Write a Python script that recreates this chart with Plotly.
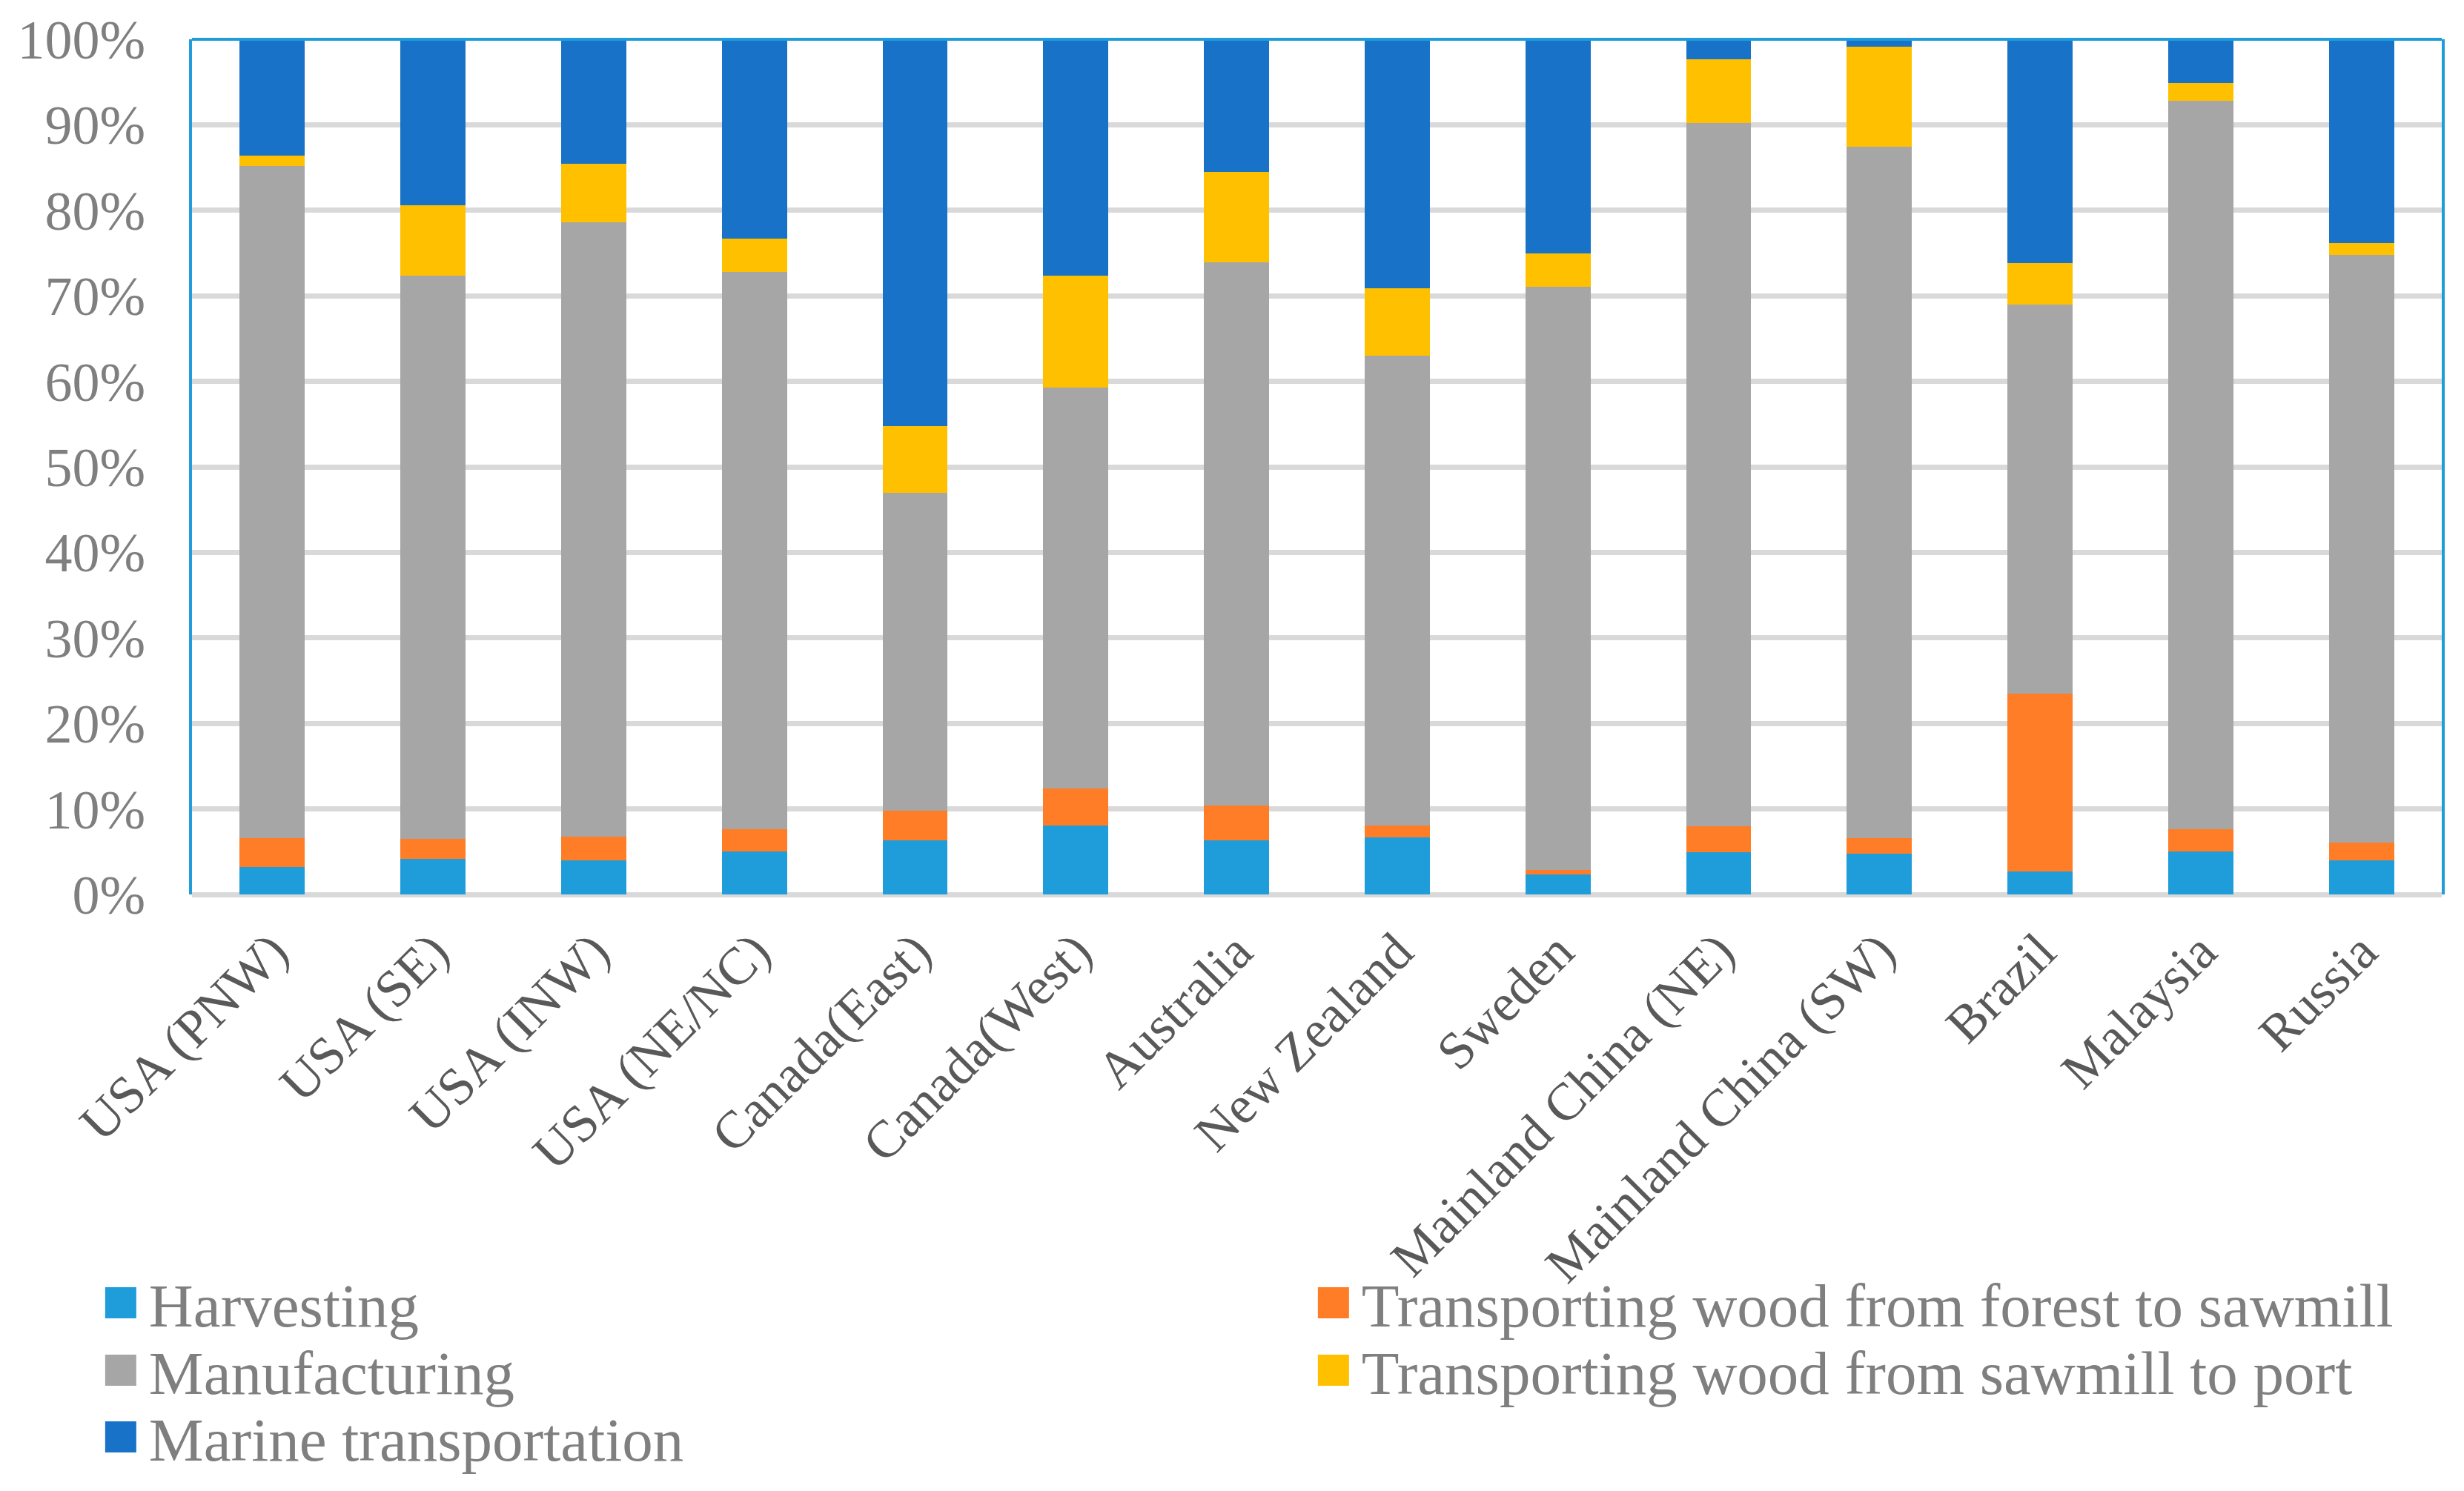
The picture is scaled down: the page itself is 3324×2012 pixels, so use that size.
import plotly.graph_objects as go

categories = ["USA (PNW)", "USA (SE)", "USA (INW)", "USA (NE/NC)", "Canada(East)",
              "Canada(West)", "Australia", "New Zealand", "Sweden", "Mainland China (NE)",
              "Mainland China (SW)", "Brazil", "Malaysia", "Russia"]

harvesting = [3.2, 4.2, 4.0, 5.0, 6.3, 8.1, 6.3, 6.7, 2.3, 4.9, 4.8, 2.7, 5.0, 4.0]
forest_to_sawmill = [3.4, 2.3, 2.8, 2.6, 3.5, 4.3, 4.1, 1.4, 0.6, 3.1, 1.8, 20.8, 2.6, 2.1]
manufacturing = [78.6, 65.9, 71.8, 65.2, 37.2, 46.9, 63.5, 54.9, 68.2, 82.2, 80.8, 45.5, 85.2, 68.7]
sawmill_to_port = [1.2, 8.2, 6.8, 3.9, 7.8, 13.1, 10.6, 7.9, 3.9, 7.5, 11.7, 4.8, 2.1, 1.4]
marine = [13.6, 19.4, 14.6, 23.3, 45.2, 27.6, 15.5, 29.1, 25.0, 2.3, 0.9, 26.2, 5.1, 23.8]

y_ticks = [0, 10, 20, 30, 40, 50, 60, 70, 80, 90, 100]
y_tick_labels = [f"{v}%" for v in y_ticks]

series = [
    ("Harvesting", harvesting, "#1E9DDA", "legend"),
    ("Transporting wood from forest to sawmill", forest_to_sawmill, "#FE7D26", "legend"),
    ("Manufacturing", manufacturing, "#A6A6A6", "legend2"),
    ("Transporting wood from sawmill to port", sawmill_to_port, "#FFC000", "legend2"),
    ("Marine transportation", marine, "#1873C8", "legend3"),
]

FONT = "Liberation Serif, Times New Roman, serif"
BLUE_FRAME = "#1E9DDA"

fig = go.Figure()
for name, vals, color, lg in series:
    fig.add_trace(go.Bar(x=categories, y=vals, name=name, legend=lg,
                         marker=dict(color=color, line=dict(width=0))))

def legend_row(y):
    return dict(
        orientation="h", traceorder="normal",
        x=-0.0442, y=y, xanchor="left", yanchor="middle",
        entrywidth=1555, entrywidthmode="pixels", itemwidth=66,
        font=dict(family=FONT, size=83, color="#7F7F7F"),
        bgcolor="rgba(0,0,0,0)",
    )

fig.update_layout(
    width=3308, height=1996,
    barmode="stack", barnorm="percent", bargap=0.595,
    plot_bgcolor="white", paper_bgcolor="white",
    margin=dict(l=251, r=22, t=45, b=797, autoexpand=False),
    font=dict(family=FONT, color="#7F7F7F"),
    showlegend=True,
    legend=legend_row(-0.4775),
    legend2=legend_row(-0.5563),
    legend3=legend_row(-0.6343),
    xaxis=dict(
        tickangle=-45,
        tickfont=dict(family=FONT, size=71, color="#595959"),
        showgrid=False, showline=False, ticks="",
        ticklabelstandoff=20,
    ),
    yaxis=dict(
        range=[0, 100], tickvals=y_ticks, ticktext=y_tick_labels,
        tickfont=dict(family=FONT, size=74, color="#7F7F7F"),
        showgrid=True, gridcolor="#D9D9D9", gridwidth=7,
        zeroline=True, zerolinecolor="#D9D9D9", zerolinewidth=7,
        showline=True, mirror=True, linecolor=BLUE_FRAME, linewidth=4,
        ticks="", ticklabelstandoff=44,
    ),
    shapes=[dict(type="line", xref="paper", yref="paper", x0=0, x1=1, y0=1, y1=1,
                 line=dict(color=BLUE_FRAME, width=4), layer="above")],
)

# enlarge the legend colour squares (keep plotly's own centring transform)
post_js = """
var gd = document.getElementById('{plot_id}');
function bigSwatches(){
  gd.querySelectorAll('.legendpoints path').forEach(function(p){
    p.setAttribute('d', 'M21,21H-21V-21H21Z');
    p.style.strokeWidth = '0px';
  });
}
bigSwatches();
if (gd.on) { gd.on('plotly_afterplot', bigSwatches); }
"""

fig.write_html("out.html", post_script=post_js)
